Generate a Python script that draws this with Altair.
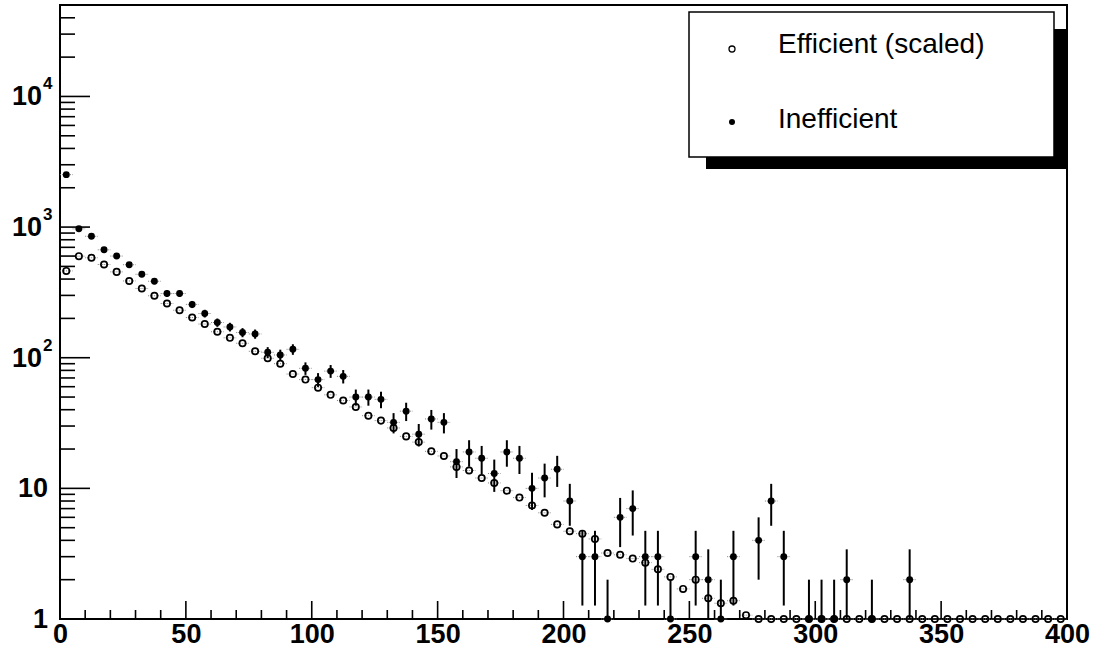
import altair as alt
import pandas as pd
import numpy as np

# ---- data (bin width 5, 80 bins from 0 to 400) ----
bin_centers = [2.5 + 5 * i for i in range(80)]

efficient = [462, 599, 582, 517, 454, 387, 339, 298, 260, 231,
             203, 181, 158, 142, 129, 112, 99, 90, 75, 68,
             59, 52, 47, 42, 36, 33, 29, 25, 22.6, 19.2,
             17.7, 14.6, 13.7, 12.0, 11.0, 9.6, 8.5, 7.4, 6.5, 5.3,
             4.7, 4.5, 4.1, 3.2, 3.1, 2.9, 2.7, 2.4, 2.1, 1.7,
             2.0, 1.44, 1.32, 1.38, 1.07, 1, 1, 1, 1, 1,
             1, 1, 1, 1, 1, 1, 1, 1, 1, 1,
             1, 1, 1, 1, 1, 1, 1, 1, 1, 1]

inefficient = [2520, 970, 850, 670, 600, 515, 435, 385, 310, 310,
               256, 218, 186, 172, 156, 152, 110, 105, 116, 83,
               68, 79, 72, 50, 50, 48, 32, 39, 26, 34,
               32, 16, 19, 17, 13, 19, 17, 10, 12, 14,
               8, 3, 3, 1, 6, 7, 3, 3, 1, None,
               3, 2, 1, 3, None, 4, 8, 3, None, 1,
               1, 1, 2, None, 1, None, None, 2, None, None,
               None, None, None, None, None, None, None, None, None, None]

x_tick_labels = [0, 50, 100, 150, 200, 250, 300, 350, 400]
x_minor_ticks = [v for v in range(0, 401, 10) if v % 50 != 0]
y_major_ticks = [1, 10, 100, 1000, 10000]
y_minor_ticks = [m * 10 ** k for k in range(5) for m in range(2, 10) if m * 10 ** k < 50000]
y_label_base = ["1", "10", "10", "10", "10"]
y_label_exp = ["", "", "2", "3", "4"]

legend_labels = ["Efficient (scaled)", "Inefficient"]

# ---- frames ----
HALF = 2.5
YMIN, YMAX = 1, 10 ** 4.7
W, H = 1007, 614

eff = pd.DataFrame({"x": bin_centers, "y": efficient})
eff["xlo"] = eff["x"] - HALF
eff["xhi"] = eff["x"] + HALF

ineff = pd.DataFrame({"x": bin_centers, "y": inefficient}).dropna()
ineff["xlo"] = ineff["x"] - HALF
ineff["xhi"] = ineff["x"] + HALF
ineff["lo"] = np.maximum(ineff["y"] - np.sqrt(ineff["y"]), YMIN)
ineff["hi"] = ineff["y"] + np.sqrt(ineff["y"])

xs = alt.Scale(domain=[0, 400], nice=False, zero=False)
ys = alt.Scale(type="log", domain=[YMIN, YMAX], nice=False)

FONT = "Liberation Sans"

xaxis = alt.Axis(values=x_tick_labels, domain=False, ticks=False, grid=False,
                 labelFontSize=27, labelFontWeight="bold", labelFont=FONT,
                 labelColor="black", labelPadding=2, labelFlush=False,
                 labelOverlap=False, title=None, format="d")


def X(field):
    return alt.X(field, scale=xs, axis=xaxis)


def Y(field):
    return alt.Y(field, scale=ys, axis=None)


# x error bars (dotted grey)
ineff_xerr = alt.Chart(ineff).mark_rule(color="#808080", strokeWidth=1, strokeDash=[1, 1]).encode(
    x=X("xlo:Q"), x2="xhi:Q", y=Y("y:Q"))
eff_xerr = alt.Chart(eff).mark_rule(color="#808080", strokeWidth=1, strokeDash=[1, 1]).encode(
    x=X("xlo:Q"), x2="xhi:Q", y=Y("y:Q"))

eff_pts = alt.Chart(eff).mark_point(shape="circle", filled=False, color="black",
                                    strokeWidth=1.7, size=40, opacity=1).encode(
    x=X("x:Q"), y=Y("y:Q"))

ineff_yerr = alt.Chart(ineff).mark_rule(color="black", strokeWidth=2).encode(
    x=X("x:Q"), y=Y("lo:Q"), y2="hi:Q")

ineff_pts = alt.Chart(ineff).mark_point(shape="circle", filled=True, color="black",
                                        size=48, opacity=1).encode(
    x=X("x:Q"), y=Y("y:Q"))

# ticks (ROOT style, inside the frame)
ymaj = alt.Chart(pd.DataFrame({"v": y_major_ticks})).mark_rule(color="black", strokeWidth=1.6).encode(
    y=Y("v:Q"), x=alt.value(0), x2=alt.value(30))
ymin_ = alt.Chart(pd.DataFrame({"v": y_minor_ticks})).mark_rule(color="black", strokeWidth=1.6).encode(
    y=Y("v:Q"), x=alt.value(0), x2=alt.value(15))
xmaj = alt.Chart(pd.DataFrame({"v": x_tick_labels})).mark_rule(color="black", strokeWidth=1.6).encode(
    x=X("v:Q"), y=alt.value(H), y2=alt.value(H - 18))
xmin_ = alt.Chart(pd.DataFrame({"v": x_minor_ticks})).mark_rule(color="black", strokeWidth=1.6).encode(
    x=X("v:Q"), y=alt.value(H), y2=alt.value(H - 9))

# y labels with superscripts
ylab = pd.DataFrame({"v": y_major_ticks, "base": y_label_base, "exp": y_label_exp})
ylab["has_exp"] = ylab["exp"] != ""
ybase_plain = alt.Chart(ylab[~ylab["has_exp"]]).mark_text(
    align="right", baseline="middle", fontSize=27, fontWeight="bold", font=FONT, color="black", dy=1).encode(
    y=Y("v:Q"), x=alt.value(-12), text="base:N")
ybase_exp = alt.Chart(ylab[ylab["has_exp"]]).mark_text(
    align="right", baseline="middle", fontSize=27, fontWeight="bold", font=FONT, color="black", dy=1).encode(
    y=Y("v:Q"), x=alt.value(-18), text="base:N")
yexp = alt.Chart(ylab[ylab["has_exp"]]).mark_text(
    align="left", baseline="middle", fontSize=17, fontWeight="bold", font=FONT, color="black", dy=-12).encode(
    y=Y("v:Q"), x=alt.value(-17), text="exp:N")

# legend box
one = pd.DataFrame({"a": [0]})
shadow = alt.Chart(one).mark_rect(color="black").encode(
    x=alt.value(646), x2=alt.value(W), y=alt.value(24), y2=alt.value(164))
box = alt.Chart(one).mark_rect(fill="white", stroke="black", strokeWidth=1.5).encode(
    x=alt.value(629), x2=alt.value(994), y=alt.value(7), y2=alt.value(152))
leg_txt1 = alt.Chart(one).mark_text(
    align="left", baseline="alphabetic", fontSize=28, font=FONT, color="black",
    text=legend_labels[0]).encode(x=alt.value(718), y=alt.value(48))
leg_txt2 = alt.Chart(one).mark_text(
    align="left", baseline="alphabetic", fontSize=28, font=FONT, color="black",
    text=legend_labels[1]).encode(x=alt.value(718), y=alt.value(123))
leg_open = alt.Chart(one).mark_point(shape="circle", filled=False, color="black", strokeWidth=1.3,
                                     size=36, opacity=1).encode(x=alt.value(672), y=alt.value(44))
leg_fill = alt.Chart(one).mark_point(shape="circle", filled=True, color="black",
                                     size=36, opacity=1).encode(x=alt.value(672), y=alt.value(117))

chart = alt.layer(
    ineff_xerr, eff_xerr, eff_pts, ineff_yerr, ineff_pts,
    ymaj, ymin_, xmaj, xmin_, ybase_plain, ybase_exp, yexp,
    shadow, box, leg_txt1, leg_txt2, leg_open, leg_fill
).properties(
    width=W, height=H,
    autosize=alt.AutoSizeParams(type="none"),
    padding={"left": 60, "top": 5, "right": 30, "bottom": 36},
    background="white",
).configure_view(stroke="black", strokeWidth=2)

chart.save("out.html", embed_options={"renderer": "svg", "actions": False})
